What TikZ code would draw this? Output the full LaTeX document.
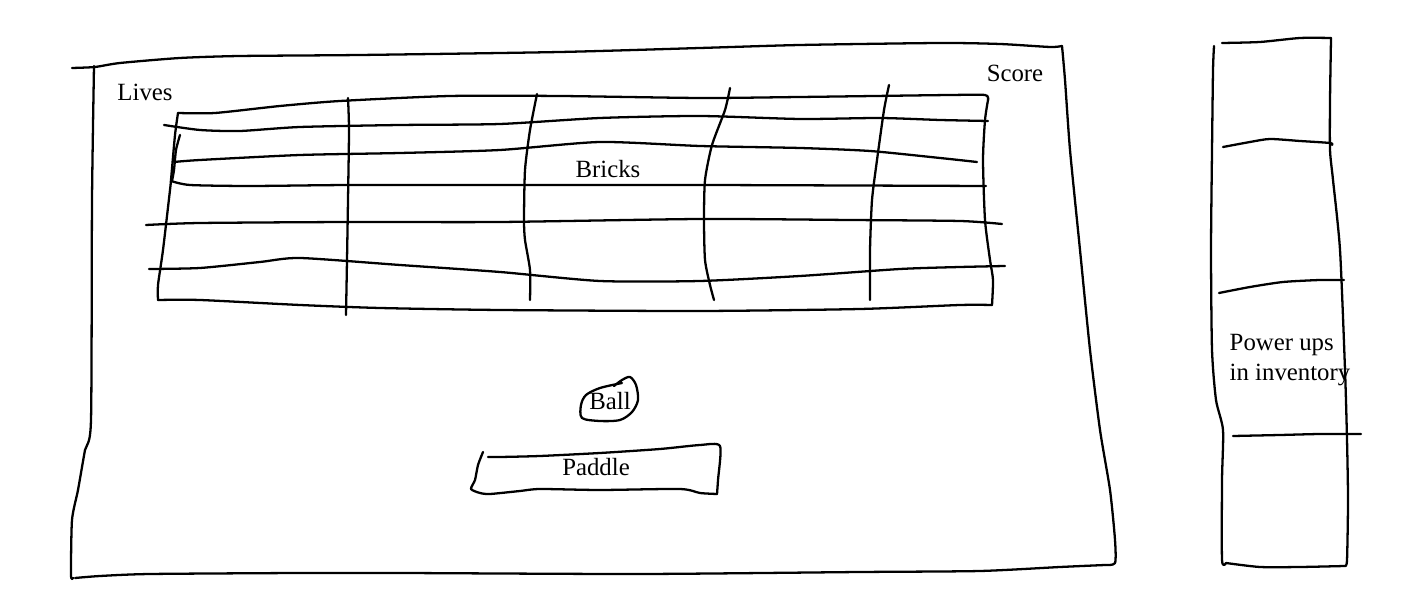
\documentclass[tikz,border=0pt]{standalone}
\usepackage{fontspec}
\setmainfont{Liberation Serif}
\usepackage{tikz}

\begin{document}
\begin{tikzpicture}[x=0.01cm, y=-0.01cm,
  sketch/.style={line width=0.65pt, line cap=round, line join=round},
  lbl/.style={font=\fontsize{7.05}{8.5}\selectfont, inner sep=0pt}]
\useasboundingbox (0,0) rectangle (1425,616);
% game screen
\draw[sketch] plot[smooth, tension=0.4] coordinates {(72,68) (95,67) (120,63) (180,58) (240,56) (360,55) (560,52) (700,48) (800,45) (940,43) (1000,44) (1050,47) (1062,46)};
\draw[sketch] plot[smooth, tension=0.4] coordinates {(1062,46) (1065,80) (1070,150) (1080,250) (1090,350) (1100,430) (1110,490) (1115,540) (1115,563) (1105,565)};
\draw[sketch] plot[smooth, tension=0.4] coordinates {(1105,565) (1060,567) (980,571) (860,572) (640,574) (400,573) (300,573) (150,574) (100,576) (75,578)};
\draw[sketch] plot[smooth, tension=0.4] coordinates {(94,66) (92,200) (91,420) (85,450) (78,490) (72,520) (71,575) (73,578)};
% bricks
\draw[sketch] plot[smooth, tension=0.4] coordinates {(178,113) (215,113) (280,106) (340,101) (450,96) (560,96) (700,98) (800,97) (950,95) (985,95) (988,100)};
\draw[sketch] plot[smooth, tension=0.4] coordinates {(988,100) (985,120) (983,160) (985,220) (990,260) (993,280) (992,305)};
\draw[sketch] plot[smooth, tension=0.4] coordinates {(992,305) (960,305) (860,309) (700,311) (500,310) (380,308) (300,305) (200,300) (158,300)};
\draw[sketch] plot[smooth, tension=0.4] coordinates {(158,300) (158,285) (163,250) (170,190) (171,180) (175,135) (178,113)};
\draw[sketch] plot[smooth, tension=0.4] coordinates {(180,135) (176,150) (174,170) (172,181)};
\draw[sketch] plot[smooth, tension=0.4] coordinates {(164,125) (200,130) (240,131) (300,127) (400,125) (500,124) (600,118) (700,116) (800,119) (880,118) (940,120) (988,121)};
\draw[sketch] plot[smooth, tension=0.4] coordinates {(174,162) (200,160) (300,155) (400,153) (500,150) (600,142) (700,146) (800,148) (870,151) (940,158) (977,162)};
\draw[sketch] plot[smooth, tension=0.4] coordinates {(171,181) (190,185) (250,186) (350,185) (500,185) (700,185) (986,186)};
\draw[sketch] plot[smooth, tension=0.4] coordinates {(146,225) (200,223) (350,222) (500,222) (700,219) (850,220) (960,221) (1002,224)};
\draw[sketch] plot[smooth, tension=0.4] coordinates {(149,269) (200,268) (260,262) (300,258) (400,265) (500,272) (600,281) (700,281) (800,276) (900,269) (960,267) (1005,266)};
\draw[sketch] plot[smooth, tension=0.4] coordinates {(348,98) (349,130) (348,200) (347,260) (346,315)};
\draw[sketch] plot[smooth, tension=0.4] coordinates {(537,94) (530,130) (525,170) (524,220) (525,240) (530,270) (530,300)};
\draw[sketch] plot[smooth, tension=0.4] coordinates {(730,88) (725,110) (712,145) (705,180) (704,220) (705,260) (710,285) (714,300)};
\draw[sketch] plot[smooth, tension=0.4] coordinates {(889,85) (884,110) (877,160) (872,200) (870,250) (870,300)};
% ball and paddle
\draw[sketch] plot[smooth, tension=0.5] coordinates {(622,383) (600,388) (586,395) (581,405) (582,418) (600,421) (620,420) (632,412) (638,400) (636,385) (630,377) (622,380) (614,386)};
\draw[sketch] plot[smooth, tension=0.4] coordinates {(483,452) (478,465) (475,480) (471,489) (480,493) (490,494) (520,491) (540,489) (600,490) (680,489) (700,493) (717,494)};
\draw[sketch] plot[smooth, tension=0.4] coordinates {(717,494) (718,480) (720,446) (700,445) (660,449) (600,453) (540,456) (500,457) (488,457)};
% inventory
\draw[sketch] plot[smooth, tension=0.4] coordinates {(1214,46) (1213,70) (1212,150) (1211,250) (1212,350) (1216,400) (1223,430) (1222,480) (1222,560) (1226,563)};
\draw[sketch] plot[smooth, tension=0.4] coordinates {(1226,563) (1260,567) (1300,567) (1345,566)};
\draw[sketch] plot[smooth, tension=0.4] coordinates {(1345,566) (1347,560) (1348,500) (1347,440) (1345,370) (1340,250) (1333,180) (1330,150) (1330,100) (1331,38)};
\draw[sketch] plot[smooth, tension=0.4] coordinates {(1331,38) (1300,38) (1260,42) (1222,43)};
\draw[sketch] plot[smooth, tension=0.4] coordinates {(1223,147) (1250,142) (1270,139) (1300,141) (1330,143) (1332,145)};
\draw[sketch] plot[smooth, tension=0.4] coordinates {(1219,293) (1250,287) (1283,282) (1320,280) (1344,280)};
\draw[sketch] plot[smooth, tension=0.4] coordinates {(1233,436) (1280,435) (1320,434) (1361,434)};
% labels
\node[lbl] (lives) at (145,92) {Lives};
\node[lbl] (score) at (1015,73) {Score};
\node[lbl] (bricks) at (608,169) {Bricks};
\node[lbl] (ball) at (610,401) {Ball};
\node[lbl] (paddle) at (596,467) {Paddle};
\node[lbl, align=left, anchor=north west] (powerups) at (1229,334) {Power ups\\in inventory};
\end{tikzpicture}
\end{document}
